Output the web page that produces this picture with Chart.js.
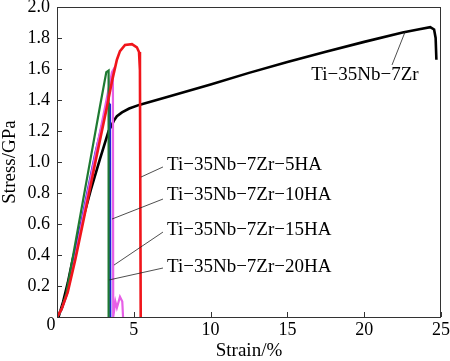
<!DOCTYPE html>
<html>
<head>
<meta charset="utf-8">
<script src="https://cdn.jsdelivr.net/npm/chart.js@4.4.1/dist/chart.umd.min.js"></script>
<style>
  html, body { margin: 0; padding: 0; background: #fff; }
  #wrap { width: 450px; height: 361px; position: relative; }
</style>
</head>
<body>
<div id="wrap"><canvas id="myChart"></canvas></div>
<script>
// strain (%) / stress (GPa)
var baseX = [0.1, 0.4, 0.7, 1.02, 1.6, 2.2, 2.8, 3.36, 3.55, 3.72, 3.9, 4.23, 4.7, 5.4, 7, 10, 12.5, 15, 17.5, 20, 22.5, 23.5, 24.3, 24.55, 24.65, 24.7];
var baseY = [0, 0.1, 0.22, 0.37, 0.6, 0.82, 1.02, 1.2, 1.235, 1.27, 1.295, 1.32, 1.345, 1.37, 1.415, 1.50, 1.575, 1.645, 1.712, 1.775, 1.835, 1.855, 1.87, 1.855, 1.8, 1.66];

var ha5X = [0, 0.3, 0.7, 1.19, 1.8, 2.5, 3.2, 3.6, 3.9, 4.1, 4.43, 4.88, 5.2, 5.34, 5.4, 5.45];
var ha5Y = [0, 0.05, 0.16, 0.37, 0.66, 1.0, 1.33, 1.53, 1.66, 1.715, 1.755, 1.76, 1.74, 1.71, 1.59, 0];

var ha10X = [0, 0.3, 0.65, 1.1, 1.8, 2.5, 3.1, 3.35, 3.45, 3.47];
var ha10Y = [0, 0.05, 0.15, 0.37, 0.72, 1.06, 1.31, 1.38, 1.37, 0];

var ha15X = [0, 0.3, 0.65, 1.15, 1.8, 2.4, 3.0, 3.4, 3.58, 3.64, 3.66, 3.8, 3.9, 4.1, 4.25, 4.3];
var ha15Y = [0, 0.05, 0.15, 0.37, 0.70, 1.0, 1.29, 1.49, 1.58, 1.59, 0, 0.1, 0.06, 0.13, 0.1, 0];

var ha20X = [0, 0.3, 0.6, 1.0, 1.6, 2.2, 2.8, 3.21, 3.36, 3.36];
var ha20Y = [0, 0.05, 0.15, 0.37, 0.70, 1.03, 1.36, 1.58, 1.59, 0];

var xTicks = [0, 5, 10, 15, 20, 25];
var yTicks = [0, 0.2, 0.4, 0.6, 0.8, 1.0, 1.2, 1.4, 1.6, 1.8, 2.0];

// curve labels and their leader lines (data units)
var labelText = ["Ti\u221235Nb\u22127Zr", "Ti\u221235Nb\u22127Zr\u22125HA", "Ti\u221235Nb\u22127Zr\u221210HA", "Ti\u221235Nb\u22127Zr\u221215HA", "Ti\u221235Nb\u22127Zr\u221220HA"];
var labelX = [20.05, 7.16, 7.16, 7.16, 7.16];
var labelY = [1.56, 0.981, 0.787, 0.561, 0.323];
var leadX1 = [21.81, 6.9, 6.9, 6.9, 6.9];
var leadY1 = [1.626, 0.968, 0.761, 0.548, 0.316];
var leadX2 = [22.66, 5.47, 3.58, 3.71, 3.39];
var leadY2 = [1.839, 0.903, 0.632, 0.335, 0.239];

function pts(xs, ys) {
  return xs.map(function (x, i) { return { x: x, y: ys[i] }; });
}

var serif = "'Liberation Serif', 'Times New Roman', serif";

var framePlugin = {
  id: "frame",
  afterDatasetsDraw: function (chart) {
    var ctx = chart.ctx;
    var a = chart.chartArea;
    var xs = chart.scales.x, ys = chart.scales.y;
    ctx.save();
    ctx.strokeStyle = "#333";
    ctx.lineWidth = 1;
    ctx.strokeRect(a.left + 0.5, a.top + 0.5, a.right - a.left - 1, a.bottom - a.top);
    ctx.beginPath();
    xTicks.forEach(function (v) {
      var px = Math.round(xs.getPixelForValue(v)) + 0.5;
      ctx.moveTo(px, a.bottom);
      ctx.lineTo(px, a.bottom - 5);
    });
    yTicks.forEach(function (v) {
      var py = Math.round(ys.getPixelForValue(v)) + 0.5;
      ctx.moveTo(a.left, py);
      ctx.lineTo(a.left + 5, py);
    });
    ctx.stroke();

    // leader lines
    ctx.strokeStyle = "#222";
    ctx.lineWidth = 0.8;
    ctx.beginPath();
    for (var i = 0; i < labelText.length; i++) {
      ctx.moveTo(xs.getPixelForValue(leadX1[i]), ys.getPixelForValue(leadY1[i]));
      ctx.lineTo(xs.getPixelForValue(leadX2[i]), ys.getPixelForValue(leadY2[i]));
    }
    ctx.stroke();

    ctx.fillStyle = "#000";
    ctx.font = "19px " + serif;
    ctx.textBaseline = "middle";
    for (var j = 0; j < labelText.length; j++) {
      ctx.textAlign = j == 0 ? "center" : "left";
      ctx.fillText(labelText[j], xs.getPixelForValue(labelX[j]), ys.getPixelForValue(labelY[j]));
    }

    // shared origin label
    ctx.font = "18px " + serif;
    ctx.textAlign = "center";
    ctx.fillText("0", a.left - 6, a.bottom + 8);
    ctx.restore();
  }
};

var ctx = document.getElementById("myChart").getContext("2d");
var myChart = new Chart(ctx, {
  type: "scatter",
  data: {
    datasets: [
      { data: pts(ha5X, ha5Y), borderColor: "#f0151b", borderWidth: 2.6, order: 1 },
      { data: pts(ha20X, ha20Y), borderColor: "#1e7a32", borderWidth: 2.2, order: 2 },
      { data: pts(ha15X, ha15Y), borderColor: "#e65fe6", borderWidth: 2.2, order: 3 },
      { data: pts(ha10X, ha10Y), borderColor: "#1c22d8", borderWidth: 2.2, order: 4 },
      { data: pts(baseX, baseY), borderColor: "#000", borderWidth: 2.6, order: 5 }
    ]
  },
  options: {
    responsive: true,
    maintainAspectRatio: false,
    animation: false,
    layout: { padding: { top: 7, right: 9, left: 0, bottom: 0 } },
    elements: {
      line: { tension: 0, fill: false },
      point: { radius: 0, hoverRadius: 0 }
    },
    datasets: { scatter: { showLine: true } },
    plugins: {
      legend: { display: false },
      tooltip: { enabled: false }
    },
    scales: {
      x: {
        type: "linear",
        min: 0,
        max: 25,
        afterBuildTicks: function (s) { s.ticks = xTicks.map(function (v) { return { value: v }; }); },
        afterFit: function (s) { s.height = 44; s.paddingLeft = 0; s.paddingRight = 0; },
        grid: { display: false, drawTicks: false },
        border: { display: false },
        ticks: {
          padding: 2,
          color: "#000",
          maxRotation: 0,
          font: { family: serif, size: 18 },
          callback: function (v) { return v == 0 ? "" : String(v); }
        },
        title: {
          display: true,
          text: "Strain/%",
          color: "#000",
          padding: { top: 0, bottom: 0 },
          font: { family: serif, size: 19, lineHeight: 1 }
        }
      },
      y: {
        type: "linear",
        min: 0,
        max: 2,
        afterBuildTicks: function (s) { s.ticks = yTicks.map(function (v) { return { value: v }; }); },
        afterFit: function (s) { s.width = 57; s.paddingTop = 0; s.paddingBottom = 0; },
        grid: { display: false, drawTicks: false },
        border: { display: false },
        ticks: {
          padding: 7,
          color: "#000",
          font: { family: serif, size: 18 },
          callback: function (v) { return v == 0 ? "" : v.toFixed(1); }
        },
        title: {
          display: true,
          text: "Stress/GPa",
          color: "#000",
          padding: { top: 1, bottom: 0 },
          font: { family: serif, size: 19, lineHeight: 1 }
        }
      }
    }
  },
  plugins: [framePlugin]
});
</script>
</body>
</html>
